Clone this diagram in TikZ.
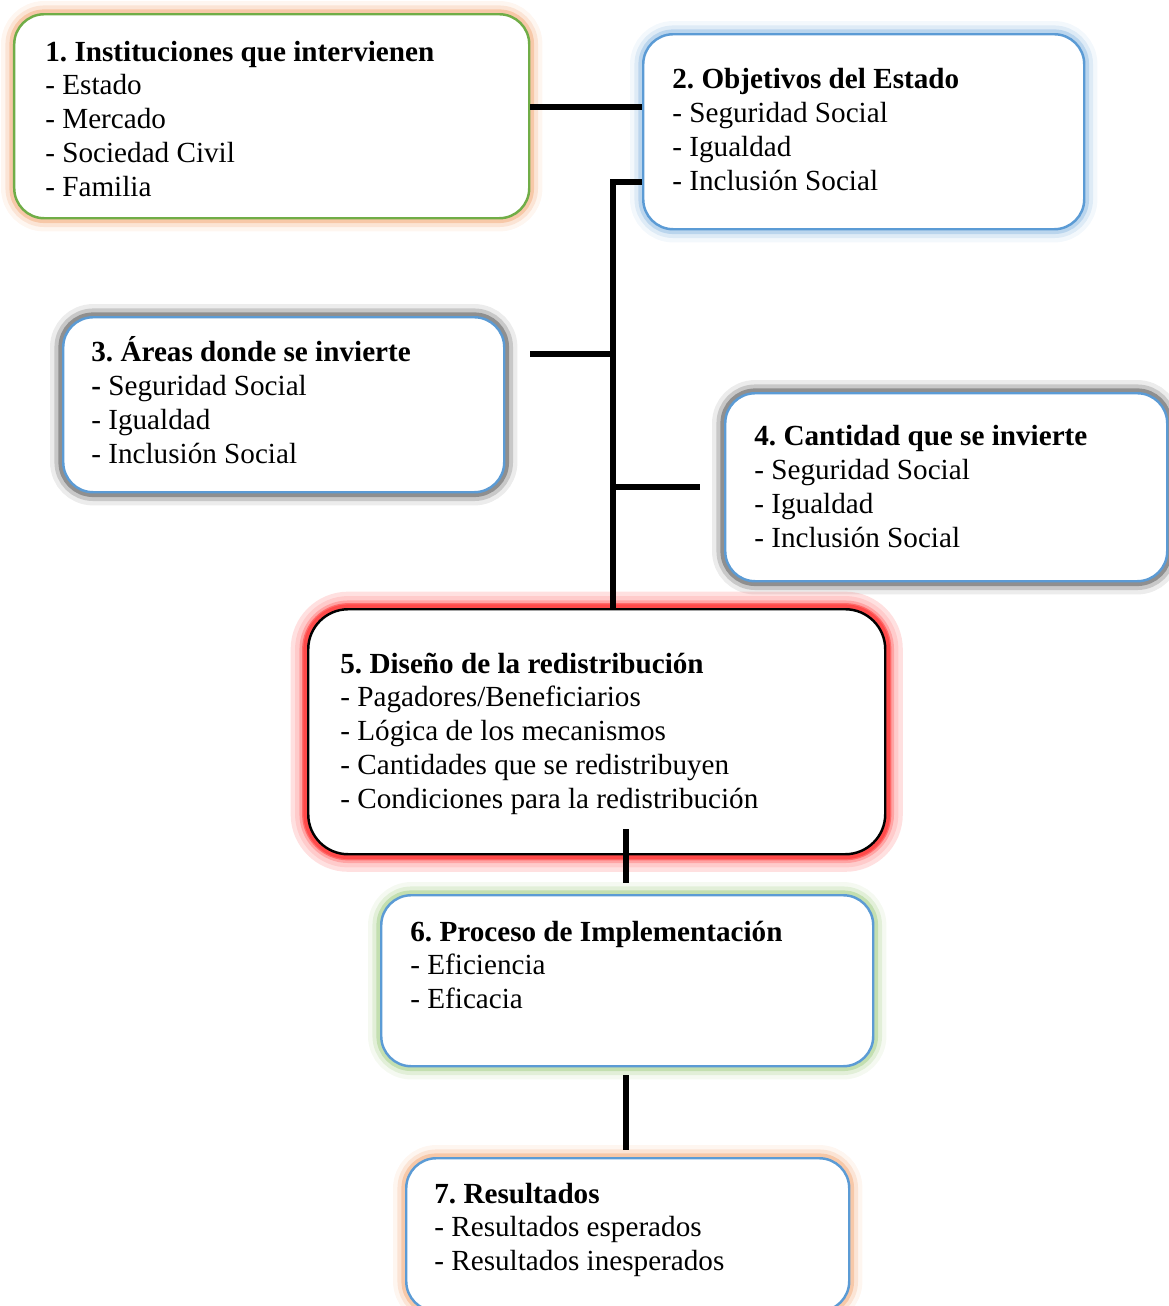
\documentclass[tikz,border=0pt]{standalone}
\usepackage{fontspec}
\setmainfont{Liberation Serif}
\usetikzlibrary{calc}
\frenchspacing

\definecolor{verde}{HTML}{70AD47}
\definecolor{azul}{HTML}{5B9BD5}
\definecolor{naranja}{HTML}{F4B183}
\definecolor{celeste}{HTML}{9DC3E6}
\definecolor{gris}{HTML}{5F5F5F}
\definecolor{rojo}{HTML}{FF3030}
\definecolor{verdeclaro}{HTML}{A9D18E}

\tikzset{
    caja/.style={draw=azul, line width=1.4pt, fill=white, rounded corners=0.6cm, anchor=north west, inner sep=0pt},
    brillo/.style={preaction={draw=#1, line width=15pt, opacity=0.12}, preaction={draw=#1, line width=10pt, opacity=0.25}, preaction={draw=#1, line width=5.5pt, opacity=0.55}},
    texto/.style={anchor=base west, align=left, inner sep=0pt, font=\fontsize{16.6}{19.2}\selectfont},
    enlace/.style={line width=3.2pt},
}

\begin{document}
\begin{tikzpicture}
    \useasboundingbox (0,0) rectangle (23.38,-26.12);
    \node[caja, draw=verde, brillo=naranja, minimum width=10.3cm, minimum height=4.08cm] (b1) at (0.26,-0.26) {};
    \node[caja, brillo=celeste, minimum width=8.82cm, minimum height=3.9cm] (b2) at (12.84,-0.66) {};
    \node[caja, brillo=gris, minimum width=8.82cm, minimum height=3.5cm] (b3) at (1.24,-6.32) {};
    \node[caja, brillo=gris, minimum width=8.84cm, minimum height=3.76cm] (b4) at (14.48,-7.84) {};
    \node[caja, draw=black, rounded corners=0.8cm, preaction={draw=rojo, line width=20pt, opacity=0.15}, brillo=rojo, preaction={draw=rojo, line width=7pt, opacity=0.5}, minimum width=11.54cm, minimum height=4.9cm] (b5) at (6.14,-12.16) {};
    \node[caja, brillo=verdeclaro, minimum width=9.84cm, minimum height=3.42cm] (b6) at (7.6,-17.88) {};
    \node[caja, brillo=naranja, minimum width=8.86cm, minimum height=3.06cm] (b7) at (8.1,-23.14) {};

    \node[texto] (t1) at ($(b1.north west)+(0.64,-3.66)$) {\textbf{1. Instituciones que intervienen}\\- Estado\\- Mercado\\- Sociedad Civil\\- Familia};
    \node[texto] (t2) at ($(b2.north west)+(0.60,-3.14)$) {\textbf{2. Objetivos del Estado}\\- Seguridad Social\\- Igualdad\\- Inclusión Social};
    \node[texto] (t3) at ($(b3.north west)+(0.58,-2.94)$) {\textbf{3. Áreas donde se invierte}\\\textbf{-} Seguridad Social\\- Igualdad\\- Inclusión Social};
    \node[texto] (t4) at ($(b4.north west)+(0.60,-3.10)$) {\textbf{4. Cantidad que se invierte}\\- Seguridad Social\\- Igualdad\\- Inclusión Social};
    \node[texto] (t5) at ($(b5.north west)+(0.66,-4.00)$) {\textbf{5. Diseño de la redistribución}\\- Pagadores/Beneficiarios\\- Lógica de los mecanismos\\- Cantidades que se redistribuyen\\- Condiciones para la redistribución};
    \node[texto] (t6) at ($(b6.north west)+(0.60,-2.29)$) {\textbf{6. Proceso de Implementación}\\- Eficiencia\\- Eficacia};
    \node[texto] (t7) at ($(b7.north west)+(0.58,-2.27)$) {\textbf{7. Resultados}\\- Resultados esperados\\- Resultados inesperados};

    \coordinate (tronco) at (12.26,-3.64);
    \draw[enlace] (b1.east |- 0,-2.14) -- (b2.west |- 0,-2.14);
    \draw[enlace] (b2.west |- tronco) -- (tronco) -- (b5.north -| tronco);
    \draw[enlace] ($(b3.east |- 0,-7.08)+(0.5,0)$) -- (tronco |- 0,-7.08);
    \draw[enlace] (tronco |- 0,-9.74) -- ($(b4.west |- 0,-9.74)+(-0.48,0)$);
    \draw[enlace] ($(b5.south -| 12.52,0)+(0,0.52)$) -- ($(b6.north -| 12.52,0)+(0,0.22)$);
    \draw[enlace] ($(b6.south -| 12.52,0)+(0,-0.16)$) -- ($(b7.north -| 12.52,0)+(0,0.14)$);
\end{tikzpicture}
\end{document}
